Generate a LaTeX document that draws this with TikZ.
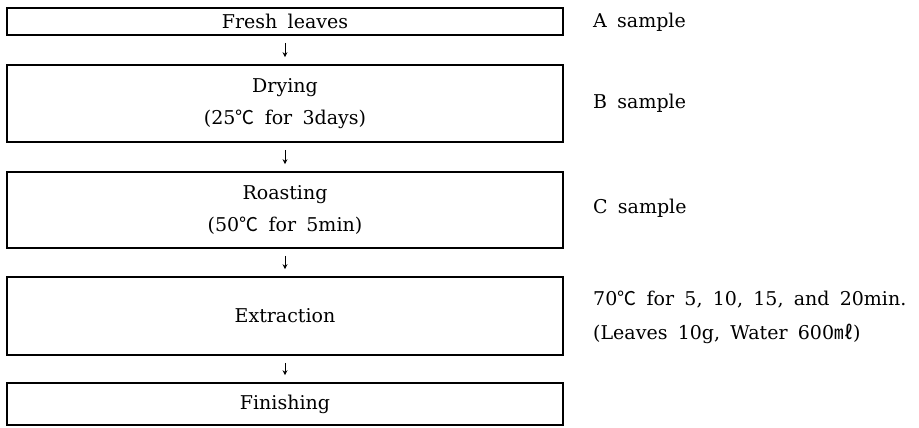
\documentclass[tikz,border=0pt]{standalone}
\usepackage{fontspec}
\setmainfont{DejaVu Serif}[WordSpace=1.7]
\newfontfamily\cjk{Noto Sans CJK KR}
\usetikzlibrary{positioning,arrows.meta}

\newcommand{\degc}{{\cjk ℃}}
\newcommand{\mlit}{{\cjk ㎖}}

\begin{document}
\begin{tikzpicture}[x=1pt,y=-1pt,font=\fontsize{19}{23}\selectfont,
  stepbox/.style={draw,line width=1.6pt,minimum width=556pt,align=center,inner sep=0pt},
  note/.style={anchor=west,inner sep=0pt,align=left},
  flow/.style={line width=0.8pt,-{Stealth[length=5pt,width=5pt]},shorten <=7pt,shorten >=7pt}]
  \useasboundingbox (0,0) rectangle (919,428);
  % process boxes
  \node[stepbox,minimum height=27pt] (fresh) at (285,21.5) {Fresh leaves};
  \node[stepbox,minimum height=77pt] (drying) at (285,103.5) {Drying\\[9pt](25\degc\ for 3days)};
  \node[stepbox,minimum height=76pt] (roasting) at (285,210) {Roasting\\[9pt](50\degc\ for 5min)};
  \node[stepbox,minimum height=78pt] (extraction) at (285,316) {Extraction};
  \node[stepbox,minimum height=42pt] (finishing) at (285,404) {Finishing};
  % arrows
  \draw[flow] (fresh) -- (drying);
  \draw[flow] (drying) -- (roasting);
  \draw[flow] (roasting) -- (extraction);
  \draw[flow] (extraction) -- (finishing);
  % samples
  \node[note] (sa) at (593,22) {A sample};
  \node[note] (sb) at (593,103) {B sample};
  \node[note] (sc) at (593,208) {C sample};
  \node[note] (cond) at (593,317) {70\degc\ for 5, 10, 15, and 20min.\\[11pt](Leaves 10g, Water 600\mlit)};
\end{tikzpicture}
\end{document}
